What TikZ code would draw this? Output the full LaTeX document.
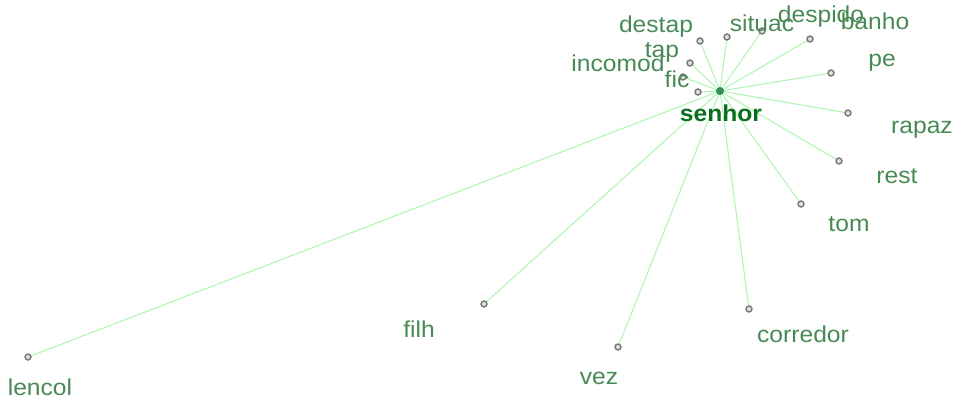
\documentclass[tikz,border=0pt]{standalone}
\usepackage{fontspec}
\setmainfont{Liberation Sans}[FakeStretch=1.07]
\definecolor{edgec}{RGB}{172,245,172}
\definecolor{lblc}{RGB}{72,138,85}
\definecolor{hubc}{RGB}{50,140,95}
\definecolor{hubtxt}{RGB}{10,110,30}
\definecolor{dotc}{RGB}{120,120,120}
\begin{document}
\begin{tikzpicture}[x=1pt,y=-1pt,
  edge/.style={draw=edgec, line width=1pt},
  leaf/.style={circle, draw=dotc, fill=white!75!gray, line width=1.4pt, minimum size=6pt, inner sep=0pt},
  hub/.style={circle, fill=hubc, minimum size=8pt, inner sep=0pt},
  lbl/.style={font=\fontsize{23}{23}\selectfont, text=lblc, inner sep=0pt, anchor=base},
  hublbl/.style={font=\fontsize{23}{23}\selectfont\bfseries, text=hubtxt, inner sep=0pt, anchor=base}
]
\useasboundingbox (0,0) rectangle (958,402);
% hub
\coordinate (h) at (720,91);
% leaf positions
\coordinate (destap) at (700,41);
\coordinate (situac) at (727,37);
\coordinate (despido) at (762,31);
\coordinate (banho) at (810,39);
\coordinate (tap) at (690,63);
\coordinate (incomod) at (683,77);
\coordinate (fic) at (698,92);
\coordinate (pe) at (831,73);
\coordinate (rapaz) at (848,113);
\coordinate (rest) at (839,161);
\coordinate (tom) at (801,204);
\coordinate (corredor) at (749,309);
\coordinate (vez) at (618,347);
\coordinate (filh) at (484,304);
\coordinate (lencol) at (28,357);
% edges
\foreach \n in {destap,situac,despido,banho,tap,incomod,fic,pe,rapaz,rest,tom,corredor,vez,filh,lencol}
  \draw[edge] (h) -- (\n);
% dots
\foreach \n in {destap,situac,despido,banho,tap,incomod,fic,pe,rapaz,rest,tom,corredor,vez,filh,lencol}
  \node[leaf] (d-\n) at (\n) {};
\node[hub] (hubdot) at (h) {};
% labels
\node[lbl] (l-destap) at (656,32) {destap};
\node[lbl] (l-situac) at (762,31) {situac};
\node[lbl] (l-despido) at (821,22) {despido};
\node[lbl] (l-banho) at (875,29) {banho};
\node[lbl] (l-tap) at (662,57) {tap};
\node[lbl] (l-incomod) at (618,71) {incomod};
\node[lbl] (l-fic) at (677,87) {fic};
\node[lbl] (l-pe) at (882,66) {pe};
\node[hublbl] (l-senhor) at (721,121) {senhor};
\node[lbl] (l-rapaz) at (922,133) {rapaz};
\node[lbl] (l-rest) at (897,183) {rest};
\node[lbl] (l-tom) at (849,231) {tom};
\node[lbl] (l-corredor) at (803,342) {corredor};
\node[lbl] (l-vez) at (599,384) {vez};
\node[lbl] (l-filh) at (419,337) {filh};
\node[lbl] (l-lencol) at (40,395) {lencol};
\end{tikzpicture}
\end{document}
